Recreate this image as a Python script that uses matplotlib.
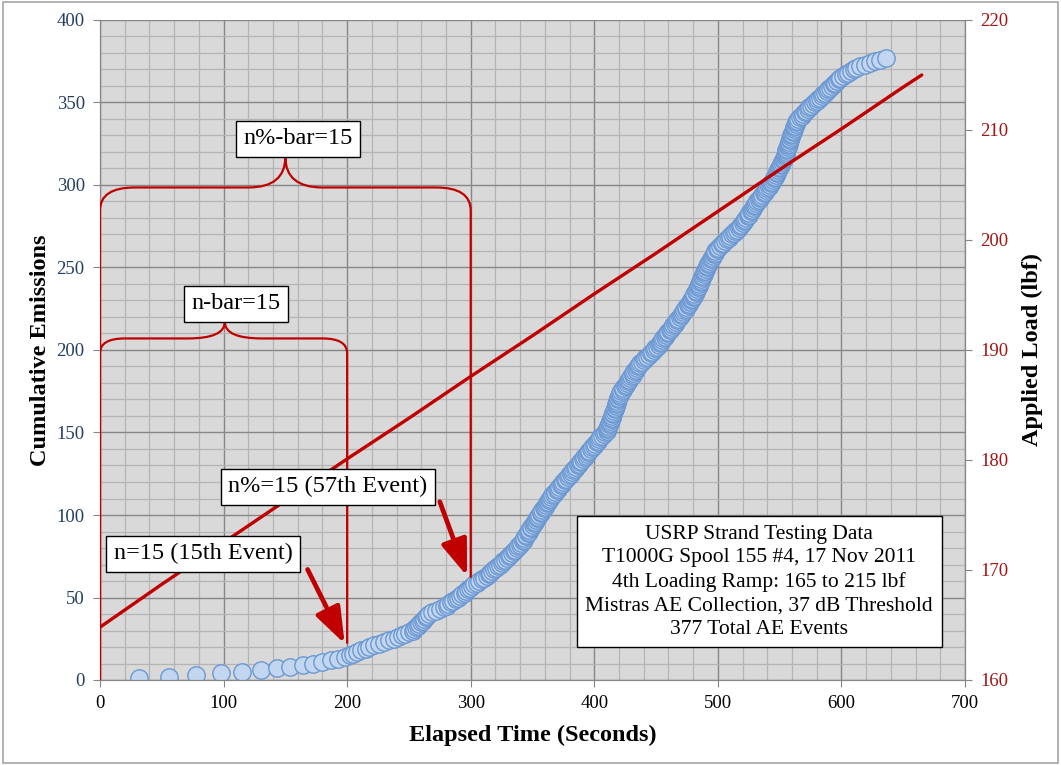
import matplotlib
matplotlib.use("Agg")
import matplotlib.pyplot as plt
import numpy as np
from matplotlib.path import Path
from matplotlib.patches import PathPatch, Rectangle
from matplotlib.ticker import MultipleLocator

# elapsed time (s) of each AE event (event 1 .. 377)
event_times = [
    31.6, 56, 78, 98, 115, 130, 143, 154, 164, 172, 180, 187, 193, 198,
    202, 205, 208, 211, 215, 218,
    222, 226, 230, 234, 238,
    241, 244, 247, 250, 253,
    254.5, 256, 257, 258.5, 259.5, 261, 262, 263.5, 265, 266.5,
    269, 272, 275, 278, 280.5,
    282, 284, 286, 288, 290, 291.5, 293, 295, 296.5, 298, 299.5, 301,
    303, 305, 307, 309, 311, 313,
    314.5, 316, 317.5, 319, 320.5, 322, 323.5, 325, 326.5, 328, 329.5, 331,
    332, 333.5, 335, 336, 337.5, 338.5, 340, 341,
    342, 343, 343.5, 344.5, 345, 346, 347, 347.5, 348.5, 349, 350, 351,
    352, 353, 353.5, 354.5, 355.5, 356.5, 357, 358, 359, 360, 361, 361.5,
    362.5, 363.5, 364.5, 365, 366, 367,
    368, 369.5, 370.5, 371.5, 373, 374, 375, 376, 377.5, 378.5, 379.5, 381, 382, 383,
    384, 385, 386.5, 387.5, 388.5, 389.5, 390.5, 391.5, 393, 394, 395, 396,
    397, 398, 399.5, 400.5, 402, 403, 404, 405, 406.5, 407.5, 409, 410,
    410.5, 411, 411.5, 412, 412.5, 413, 413.5, 414, 414.5, 415, 415.5, 416,
    416.5, 417, 417.5, 417.8, 418,
    418.5, 419, 419.5, 420, 420.5, 421,
    422, 423, 423.5, 424.5, 425.5, 426.5, 427, 428, 429, 430, 431, 431.5,
    432.5, 433.5, 434.5, 435, 436, 437,
    438.5, 440, 441, 442.5, 444, 445.5, 446.5, 448, 449.5, 450.5, 452, 453,
    454, 455, 456, 457, 458, 459, 460, 461, 462, 463, 464, 465, 466, 467,
    468, 469, 470, 471, 472, 473, 474, 474.5, 475.5, 476.5, 477.5, 478.5, 479, 480,
    480.5, 481, 482, 482.5, 483, 484, 484.5, 485, 485.5, 486, 486.5, 487,
    488, 488.5, 489, 489.5, 490, 491,
    491.5, 492, 493, 494, 494.5, 495, 496, 497, 497.5, 498, 499,
    500.5, 502, 503.5, 504.5, 506, 507.5, 509, 510, 511.5, 513, 514, 515.5, 517, 518,
    519, 520, 521, 522, 523, 524, 525, 525.5, 526.5, 527.5, 528.5, 529.5, 530, 531,
    532, 533, 534, 535, 536, 537, 538, 539, 540, 541, 542, 543, 544, 545,
    545.5, 546, 547, 547.5, 548, 549, 549.5, 550, 551, 551.5, 552, 553,
    553.5, 554, 554.5, 555, 555.2, 555.5, 556, 556.5, 557, 557.2, 557.5, 558,
    558.5, 559, 559.5, 560, 560.5, 561, 561.5, 562, 562.5, 563, 563.5, 564,
    565, 566.5, 568, 569, 570.5, 571.5, 573, 574,
    575.5, 577, 578.5, 580, 581, 582.5, 584, 585,
    586.5, 588, 589.5, 591, 592.5, 594, 595, 596.5, 598, 599,
    601, 603.5, 605.5, 607.5, 610, 612,
    615, 619, 623, 627, 631, 636,
]
event_counts = list(range(1, len(event_times) + 1))

# applied load ramp
load_time = [0, 50, 100, 150, 200, 250, 300, 350, 400, 450, 500, 550, 600, 650, 665]
load_lbf = [164.8, 168.7, 172.5, 176.3, 180.1, 183.8, 187.6, 191.3, 195.1, 198.8,
            202.6, 206.4, 210.1, 213.9, 215.0]

info_lines = ["USRP Strand Testing Data",
              "T1000G Spool 155 #4, 17 Nov 2011",
              "4th Loading Ramp: 165 to 215 lbf",
              "Mistras AE Collection, 37 dB Threshold",
              "377 Total AE Events"]

serif = ["Liberation Serif", "DejaVu Serif"]
red = "#c00000"

fig = plt.figure(figsize=(10.61, 7.65), dpi=100)
ax = fig.add_axes([100 / 1061, 85 / 765, 865 / 1061, 660 / 765])
ax2 = ax.twinx()

ax.set_facecolor("#d9d9d9")
ax.set_xlim(0, 700)
ax.set_ylim(0, 400)
ax2.set_ylim(160, 220)
ax.xaxis.set_major_locator(MultipleLocator(100))
ax.xaxis.set_minor_locator(MultipleLocator(20))
ax.yaxis.set_major_locator(MultipleLocator(50))
ax.yaxis.set_minor_locator(MultipleLocator(10))
ax2.yaxis.set_major_locator(MultipleLocator(10))
ax.grid(True, which="minor", color="#b4b4b4", lw=0.9)
ax.grid(True, which="major", color="#878787", lw=1.0)
ax.set_axisbelow(True)

for a in (ax, ax2):
    for s in a.spines.values():
        s.set_color("#868686")
    a.spines["top"].set_visible(False)
ax.tick_params(which="minor", length=0)
ax.tick_params(which="major", length=5, color="#868686", pad=6)
ax2.tick_params(which="major", length=5, color="#868686", pad=6)

for lab in ax.get_yticklabels():
    lab.set_fontfamily(serif)
    lab.set_fontsize(13.5)
    lab.set_color("#243f60")
for lab in ax.get_xticklabels():
    lab.set_fontfamily(serif)
    lab.set_fontsize(13.5)
    lab.set_color("black")
for lab in ax2.get_yticklabels():
    lab.set_fontfamily(serif)
    lab.set_fontsize(13.5)
    lab.set_color("#a31515")

ax.plot(event_times, event_counts, "o", ms=12.5, mfc="#c3d6f0", mec="#6b98d2", mew=1.0)
ax2.plot(load_time, load_lbf, color=red, lw=2.4, solid_capstyle="round")

ax.set_xlabel("Elapsed Time (Seconds)", fontfamily=serif, fontsize=17.5, fontweight="bold", labelpad=9)
ax.set_ylabel("Cumulative Emissions", fontfamily=serif, fontsize=17.5, fontweight="bold", labelpad=4)
ax2.set_ylabel("Applied Load (lbf)", fontfamily=serif, fontsize=17.5, fontweight="bold", labelpad=10)

td = ax.transData


def brace(x1, ybar, xmid, ypeak, y_left, y_right, rx, ry):
    verts = [(0, y_left), (0, ybar - ry), (0, ybar), (rx, ybar),
             (xmid - 30, ybar), (xmid, ybar), (xmid, ypeak),
             (xmid, ybar), (xmid + 30, ybar),
             (x1 - rx, ybar), (x1, ybar), (x1, ybar - ry), (x1, y_right)]
    codes = [Path.MOVETO, Path.LINETO, Path.CURVE3, Path.CURVE3,
             Path.LINETO, Path.CURVE3, Path.CURVE3,
             Path.CURVE3, Path.CURVE3,
             Path.LINETO, Path.CURVE3, Path.CURVE3, Path.LINETO]
    ax2.add_patch(PathPatch(Path(verts, codes), fc="none", ec=red, lw=1.6,
                            transform=td, zorder=5))


brace(300, 298.5, 150, 317, 0, 62, 28, 14)
brace(200, 207, 101, 217, 0, 22, 20, 9)

box = dict(boxstyle="square,pad=0.3", fc="white", ec="black", lw=1)
ax2.text(160, 328, "n%-bar=15", transform=td, fontfamily=serif, fontsize=17.5,
         ha="center", va="center", bbox=box, zorder=8)
ax2.text(110, 228, "n-bar=15", transform=td, fontfamily=serif, fontsize=17.5,
         ha="center", va="center", bbox=box, zorder=8)
ax2.text(184.5, 117, "n%=15 (57th Event)", transform=td, fontfamily=serif, fontsize=17.5,
         ha="center", va="center", bbox=box, zorder=8)
ax2.text(83.5, 76.5, "n=15 (15th Event)", transform=td, fontfamily=serif, fontsize=17.5,
         ha="center", va="center", bbox=box, zorder=8)

arrow = dict(arrowstyle="-|>,head_length=1.1,head_width=0.4", color=red, lw=3.4,
             shrinkA=0, shrinkB=0, mutation_scale=20)
ax2.annotate("", xy=(198, 22), xytext=(168, 67), xycoords=td, textcoords=td,
             arrowprops=arrow, zorder=7)
ax2.annotate("", xy=(297, 63), xytext=(275, 108), xycoords=td, textcoords=td,
             arrowprops=arrow, zorder=7)

ax2.text(533.5, 59.5, "\n".join(info_lines), transform=td, fontfamily=serif, fontsize=15.5,
         ha="center", va="center", linespacing=1.32, zorder=8,
         bbox=dict(boxstyle="square,pad=0.4", fc="white", ec="black", lw=1))

fig.patches.append(Rectangle((0.003, 0.003), 0.994, 0.994, transform=fig.transFigure,
                             fill=False, ec="#a6a6a6", lw=1.2))

fig.savefig("out.png", dpi=100)
